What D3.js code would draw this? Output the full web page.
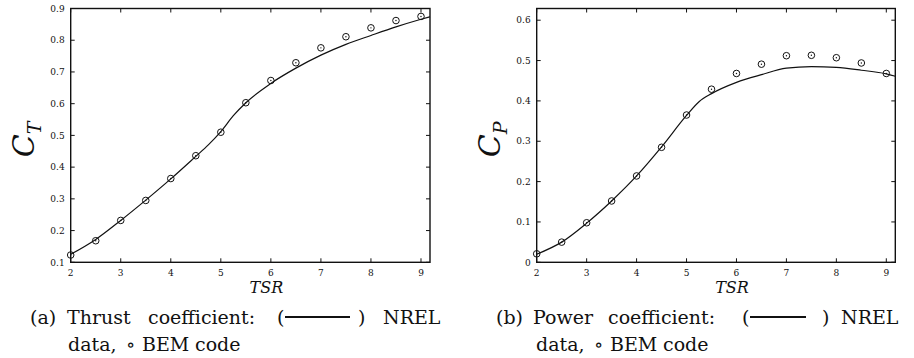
<!DOCTYPE html>
<html>
<head>
<meta charset="UTF-8">
<title>CT and CP vs TSR</title>
<style>
  body { margin: 0; background: #fff; }
  .frame { fill: none; stroke: #111; stroke-width: 1.4; }
  .tick { stroke: #111; stroke-width: 1; }
  .nrel { fill: none; stroke: #111; stroke-width: 1.2; }
  .bem { fill: none; stroke: #111; stroke-width: 1; }
  .dot { fill: #111; }
  .serif { font-family: "DejaVu Serif", serif; fill: #111; }
</style>
</head>
<body>
<script src="https://cdnjs.cloudflare.com/ajax/libs/d3/7.8.5/d3.min.js"></script>
<script>
// BEM code points (circles)
var bemTsr = [2, 2.5, 3, 3.5, 4, 4.5, 5, 5.5, 6, 6.5, 7, 7.5, 8, 8.5, 9];
var ctBem = [0.123, 0.168, 0.232, 0.295, 0.364, 0.436, 0.510, 0.603, 0.673, 0.729, 0.776, 0.811, 0.839, 0.862, 0.875];
var cpBem = [0.021, 0.050, 0.098, 0.152, 0.214, 0.285, 0.365, 0.429, 0.468, 0.491, 0.512, 0.513, 0.507, 0.494, 0.468];

// NREL data (solid lines)
var ctNrelTsr = [2, 2.5, 3, 3.5, 4, 4.5, 4.75, 5, 5.25, 5.5, 6, 6.5, 7, 7.5, 8, 8.5, 9, 9.18];
var ctNrel = [0.125, 0.172, 0.232, 0.296, 0.363, 0.434, 0.470, 0.512, 0.562, 0.603, 0.664, 0.712, 0.753, 0.787, 0.815, 0.842, 0.866, 0.874];
var cpNrelTsr = [2, 2.5, 3, 3.5, 4, 4.5, 5, 5.25, 5.5, 6, 6.5, 7, 7.5, 8, 8.5, 9, 9.18];
var cpNrel = [0.020, 0.050, 0.097, 0.152, 0.214, 0.286, 0.364, 0.398, 0.418, 0.446, 0.465, 0.481, 0.485, 0.483, 0.476, 0.467, 0.461];

var xTicks = [2, 3, 4, 5, 6, 7, 8, 9];
var ctTicks = [0.1, 0.2, 0.3, 0.4, 0.5, 0.6, 0.7, 0.8, 0.9];
var ctTickLabels = ["0.1", "0.2", "0.3", "0.4", "0.5", "0.6", "0.7", "0.8", "0.9"];
var cpTicks = [0, 0.1, 0.2, 0.3, 0.4, 0.5, 0.6];
var cpTickLabels = ["0", "0.1", "0.2", "0.3", "0.4", "0.5", "0.6"];

var W = 914, H = 358;
var svg = d3.select("body").append("svg")
  .attr("width", W)
  .attr("height", H);

function txt(sel) {
  return sel.append("text").attr("class", "serif");
}

function panel(opt) {
  var x = d3.scaleLinear().domain([2, 9.18]).range([opt.left, opt.right]);
  var y = d3.scaleLinear().domain(opt.yDomain).range([opt.bottom, opt.top]);
  var g = svg.append("g");

  // ticks, inward on all four sides
  var tl = 4;
  xTicks.forEach(function(t) {
    g.append("line").attr("class", "tick")
      .attr("x1", x(t)).attr("x2", x(t)).attr("y1", opt.bottom).attr("y2", opt.bottom - tl);
    g.append("line").attr("class", "tick")
      .attr("x1", x(t)).attr("x2", x(t)).attr("y1", opt.top).attr("y2", opt.top + tl);
    txt(g)
      .attr("x", x(t)).attr("y", opt.bottom + 14)
      .attr("text-anchor", "middle")
      .attr("font-size", 9)
      .text(t);
  });
  opt.yTicks.forEach(function(t, i) {
    g.append("line").attr("class", "tick")
      .attr("x1", opt.left).attr("x2", opt.left + tl).attr("y1", y(t)).attr("y2", y(t));
    g.append("line").attr("class", "tick")
      .attr("x1", opt.right).attr("x2", opt.right - tl).attr("y1", y(t)).attr("y2", y(t));
    txt(g)
      .attr("x", opt.left - 6).attr("y", y(t) + 3.2)
      .attr("text-anchor", "end")
      .attr("font-size", 9)
      .text(opt.yLabels[i]);
  });

  // NREL line
  var line = d3.line()
    .x(function(d) { return x(d[0]); })
    .y(function(d) { return y(d[1]); })
    .curve(d3.curveMonotoneX);
  g.append("path").attr("class", "nrel")
    .attr("d", line(d3.zip(opt.lineX, opt.lineY)));

  // BEM circles
  var pts = d3.zip(bemTsr, opt.bem);
  g.selectAll(".bem-" + opt.id).data(pts).enter().append("circle")
    .attr("class", "bem")
    .attr("cx", function(d) { return x(d[0]); })
    .attr("cy", function(d) { return y(d[1]); })
    .attr("r", 3.3);
  g.selectAll(".dot-" + opt.id).data(pts).enter().append("circle")
    .attr("class", "dot")
    .attr("cx", function(d) { return x(d[0]); })
    .attr("cy", function(d) { return y(d[1]); })
    .attr("r", 0.7);

  // frame
  g.append("rect").attr("class", "frame")
    .attr("x", opt.left).attr("y", opt.top)
    .attr("width", opt.right - opt.left).attr("height", opt.bottom - opt.top);

  // axis labels
  txt(g)
    .attr("x", (opt.left + opt.right) / 2 + 16).attr("y", 293)
    .attr("text-anchor", "middle")
    .attr("font-style", "italic").attr("font-size", 16)
    .text("TSR");
  var yl = txt(g)
    .attr("transform", "translate(" + (opt.left - 37) + "," + ((opt.top + opt.bottom) / 2 + 4) + ") rotate(-90)")
    .attr("text-anchor", "middle")
    .attr("font-style", "italic").attr("font-size", 30);
  yl.append("tspan").text("C");
  yl.append("tspan").attr("dy", 7).attr("font-size", 19).text(opt.sub);

  // caption
  var c = opt.caption;
  c.words.forEach(function(w) {
    txt(g).attr("x", w[1]).attr("y", 324).attr("font-size", 19).text(w[0]);
  });
  g.append("line")
    .attr("x1", c.dash[0]).attr("x2", c.dash[1]).attr("y1", 317).attr("y2", 317)
    .style("stroke", "#111").style("stroke-width", 2);
  c.words2.forEach(function(w) {
    txt(g).attr("x", w[1]).attr("y", 350.5).attr("font-size", 19).text(w[0]);
  });
}

panel({
  id: "ct", sub: "T",
  left: 70.7, right: 430, top: 8.5, bottom: 262.3,
  yDomain: [0.1, 0.9], yTicks: ctTicks, yLabels: ctTickLabels,
  lineX: ctNrelTsr, lineY: ctNrel, bem: ctBem,
  caption: {
    words: [["(a)", 30], ["Thrust", 67], ["coefficient:", 148], ["(", 277], [")", 358], ["NREL", 383]],
    dash: [285, 350],
    words2: [["data,", 68], ["\u2218", 126], ["BEM", 142], ["code", 195]]
  }
});

panel({
  id: "cp", sub: "P",
  left: 536.7, right: 895.3, top: 8.5, bottom: 262.3,
  yDomain: [0, 0.629], yTicks: cpTicks, yLabels: cpTickLabels,
  lineX: cpNrelTsr, lineY: cpNrel, bem: cpBem,
  caption: {
    words: [["(b)", 496], ["Power", 533], ["coefficient:", 608], ["(", 742], [")", 822], ["NREL", 841]],
    dash: [750, 806],
    words2: [["data,", 536], ["\u2218", 594], ["BEM", 610], ["code", 663]]
  }
});
</script>
</body>
</html>
